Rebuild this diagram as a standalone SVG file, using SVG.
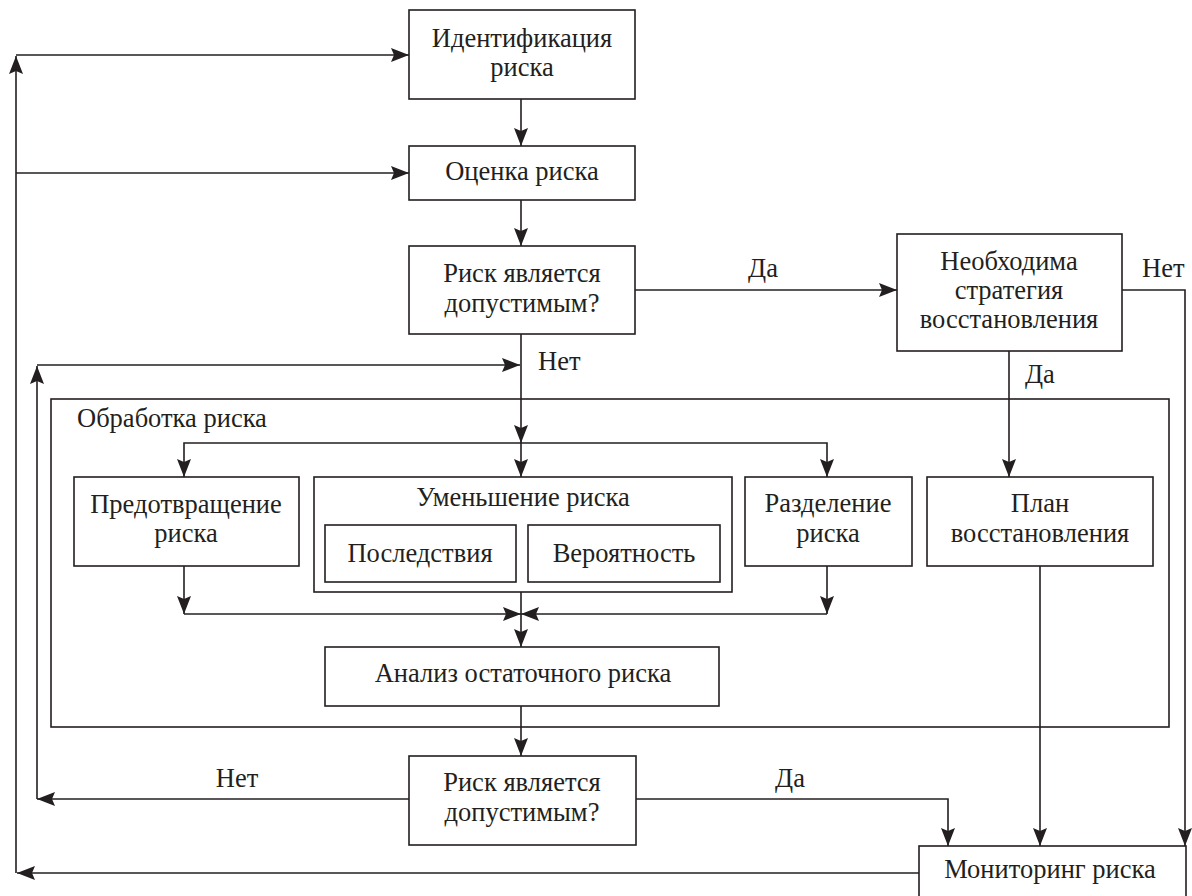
<svg xmlns="http://www.w3.org/2000/svg" width="1192" height="896" viewBox="0 0 1192 896">
<defs>
<style>
.box{fill:#fff;stroke:#231f20;stroke-width:1.6}
.ar{fill:none;stroke:#231f20;stroke-width:1.6;marker-end:url(#ah)}
text{font-family:"Liberation Serif","Times New Roman",serif;font-size:26.5px;fill:#231f20}
.c{text-anchor:middle}
</style>
<marker id="ah" markerUnits="userSpaceOnUse" markerWidth="18" markerHeight="14" refX="18" refY="7" orient="auto">
<path d="M0,0 L18,7 L0,14 L3,7 z" fill="#231f20"/>
</marker>
</defs>
<rect width="1192" height="896" fill="#fff"/>
<g id="container">
<rect class="box" x="51" y="399" width="1118" height="328" fill="none"/>
<text x="77" y="427">Обработка риска</text>
</g>
<g id="connectors">
<path class="ar" d="M919,873 L17,873"/>
<path class="ar" d="M16,873 L16,56"/>
<path class="ar" d="M16,55 L409,55"/>
<path class="ar" d="M16,173 L409,173"/>
<path class="ar" d="M521,99 L521,146"/>
<path class="ar" d="M521,200 L521,246"/>
<path class="ar" d="M635,290 L897,290"/>
<path class="ar" d="M1122,290 L1185,290 L1185,846"/>
<path class="ar" d="M1009,351 L1009,477"/>
<path class="ar" d="M521,334 L521,443"/>
<path class="ar" d="M37,799 L37,366"/>
<path class="ar" d="M37,365 L520,365"/>
<path class="ar" d="M521,443 L521,477"/>
<path class="ar" d="M521,443 L184,443 L184,477"/>
<path class="ar" d="M521,443 L827,443 L827,477"/>
<path class="ar" d="M184,566 L184,614"/>
<path class="ar" d="M827,566 L827,614"/>
<path class="ar" d="M184,614 L521,614"/>
<path class="ar" d="M827,614 L521,614"/>
<path class="ar" d="M521,592 L521,647"/>
<path class="ar" d="M521,706 L521,756"/>
<path class="ar" d="M409,799 L37,799"/>
<path class="ar" d="M636,799 L948,799 L948,846"/>
<path class="ar" d="M1040,566 L1040,846"/>
</g>
<g id="ident"><rect class="box" x="409" y="10" width="226" height="89"/><text class="c" x="522" y="47">Идентификация</text><text class="c" x="522" y="76">риска</text></g>
<g id="ocenka"><rect class="box" x="409" y="146" width="226" height="54"/><text class="c" x="522" y="180">Оценка риска</text></g>
<g id="decision1"><rect class="box" x="409" y="246" width="226" height="88"/><text class="c" x="522" y="282">Риск является</text><text class="c" x="522" y="312">допустимым?</text></g>
<g id="labels1"><text class="c" x="763" y="277">Да</text><text x="538" y="370">Нет</text><text x="1142" y="277">Нет</text><text x="1025" y="383">Да</text></g>
<g id="strategy"><rect class="box" x="897" y="234" width="225" height="117"/><text class="c" x="1009" y="270">Необходима</text><text class="c" x="1009" y="299">стратегия</text><text class="c" x="1009" y="328">восстановления</text></g>
<g id="prevent"><rect class="box" x="74" y="477" width="225" height="89"/><text class="c" x="186" y="513">Предотвращение</text><text class="c" x="186" y="542">риска</text></g>
<g id="reduce"><rect class="box" x="314" y="477" width="418" height="115"/><text class="c" x="523" y="506">Уменьшение риска</text></g>
<g id="consequences"><rect class="box" x="325" y="525" width="191" height="57"/><text class="c" x="420" y="562">Последствия</text></g>
<g id="probability"><rect class="box" x="528" y="525" width="192" height="57"/><text class="c" x="624" y="562">Вероятность</text></g>
<g id="transfer"><rect class="box" x="745" y="477" width="167" height="89"/><text class="c" x="828" y="512">Разделение</text><text class="c" x="828" y="542">риска</text></g>
<g id="plan"><rect class="box" x="927" y="477" width="226" height="89"/><text class="c" x="1040" y="512">План</text><text class="c" x="1040" y="542">восстановления</text></g>
<g id="residual"><rect class="box" x="325" y="647" width="394" height="59"/><text class="c" x="523" y="682">Анализ остаточного риска</text></g>
<g id="decision2"><rect class="box" x="409" y="756" width="227" height="89"/><text class="c" x="522" y="791">Риск является</text><text class="c" x="522" y="821">допустимым?</text></g>
<g id="labels2"><text class="c" x="237" y="787">Нет</text><text class="c" x="790" y="787">Да</text></g>
<g id="monitor"><rect class="box" x="919" y="846" width="267" height="60"/><text class="c" x="1050" y="878">Мониторинг риска</text></g>
</svg>
